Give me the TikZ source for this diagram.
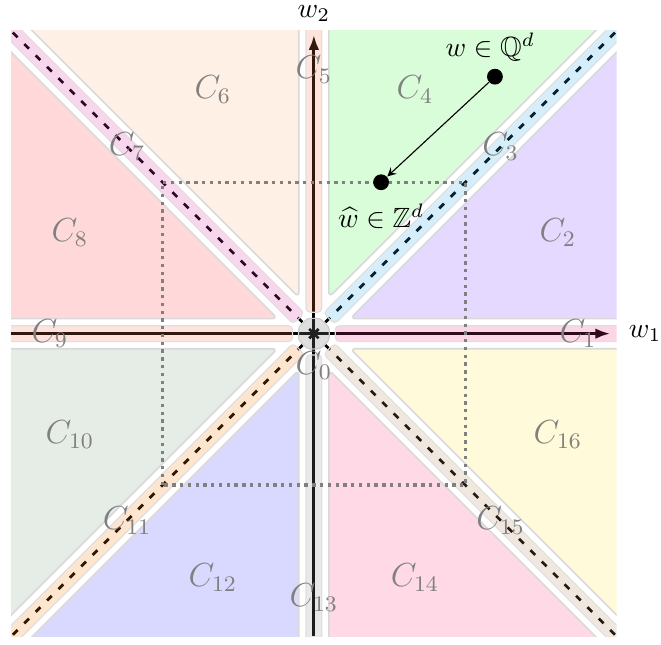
\documentclass[tikz,border=0pt]{standalone}
\usepackage{amssymb}
\usetikzlibrary{arrows.meta,shapes.geometric}
\definecolor{cTwo}{HTML}{E5D9FF}
\definecolor{cFour}{HTML}{D9FCD9}
\definecolor{cSix}{HTML}{FFF0E6}
\definecolor{cEight}{HTML}{FFD9D9}
\definecolor{cTen}{HTML}{E6ECE6}
\definecolor{cTwelve}{HTML}{D9D9FF}
\definecolor{cFourteen}{HTML}{FFD9E6}
\definecolor{cSixteen}{HTML}{FFFAD9}
\definecolor{sOne}{RGB}{230,50,130}
\definecolor{sThree}{RGB}{50,170,230}
\definecolor{sFive}{RGB}{255,120,80}
\definecolor{sSeven}{RGB}{220,50,160}
\definecolor{sNine}{RGB}{250,110,80}
\definecolor{sEleven}{RGB}{245,125,20}
\definecolor{sThirteen}{RGB}{140,145,140}
\definecolor{sFifteen}{RGB}{180,140,90}
\begin{document}
\begin{tikzpicture}[>=stealth,
  sector/.style={draw=gray!30, line width=0.6pt, rounded corners=2pt},
  strip/.style={draw=gray!25, line width=0.4pt, fill opacity=0.2, rounded corners=1.5pt},
  axis/.style={line width=1.1pt, -{Latex[length=5.4pt,width=3.8pt]}},
  diag/.style={line width=1pt, dash pattern=on 2.4pt off 3.4pt},
  lab/.style={text=gray, font=\large},
  dot/.style={circle, fill=black, inner sep=0pt, minimum size=0.2cm}]
\useasboundingbox (-3.97,-3.93) rectangle (4.39,4.22);
\begin{scope}
\clip (-3.83,-3.83) rectangle (3.83,3.83);
\foreach \a/\ca/\cb in {0/cTwo/cFour, 90/cSix/cEight, 180/cTen/cTwelve, 270/cFourteen/cSixteen} {
  \filldraw[sector, fill=\ca, rotate=\a] (0.459,0.19) -- (4.2,0.19) -- (4.2,3.931) -- cycle;
  \filldraw[sector, fill=\cb, rotate=\a] (0.19,0.459) -- (0.19,4.2) -- (3.931,4.2) -- cycle;
}
\end{scope}
\coordinate (o) at (0,0);
\coordinate (xa) at (-3.83,0);
\coordinate (xb) at (3.75,0);
\coordinate (ya) at (0,-3.83);
\coordinate (yb) at (0,3.78);
\coordinate (ne) at (3.83,3.83);
\coordinate (nw) at (-3.83,3.83);
\coordinate (sw) at (-3.83,-3.83);
\coordinate (se) at (3.83,-3.83);
\draw[axis] (xa) -- (xb);
\draw[axis] (ya) -- (yb);
\foreach \c in {ne,nw,sw,se}
  \draw[diag] (o) -- (\c);
\begin{scope}
\clip (-3.83,-3.83) rectangle (3.83,3.83);
\foreach \a/\c in {0/sOne, 45/sThree, 90/sFive, 135/sSeven, 180/sNine, 225/sEleven, 270/sThirteen, 315/sFifteen}
  \filldraw[strip, fill=\c, rotate=\a] (0.27,-0.1) rectangle (5.8,0.1);
\end{scope}
\node[regular polygon, regular polygon sides=8, minimum size=0.42cm, inner sep=0pt,
  fill=gray, fill opacity=0.25, draw=gray!40, rounded corners=1pt] (zero) at (o) {};
\draw[gray, line width=1.2pt, dash pattern=on 1.2pt off 1.6pt] (-1.915,-1.915) rectangle (1.915,1.915);
\node[dot] (w) at (2.29,3.25) {};
\node[dot] (what) at (0.85,1.915) {};
\draw[->] (w) -- (what);
\node (wq) at (2.23,3.63) {$w\in\mathbb{Q}^d$};
\node (wz) at (0.85,1.48) {$\widehat{w}\in\mathbb{Z}^d$};
\node (w1) at (4.19,0) {$w_1$};
\node[inner sep=1pt] (w2) at (0,4.05) {$w_2$};
\foreach \k in {1,...,16}
  \node[lab] (c\k) at ({(\k-1)*22.5}:3.34) {$C_{\k}$};
\node[lab] (c0) at (0,-0.40) {$C_0$};
\end{tikzpicture}
\end{document}
